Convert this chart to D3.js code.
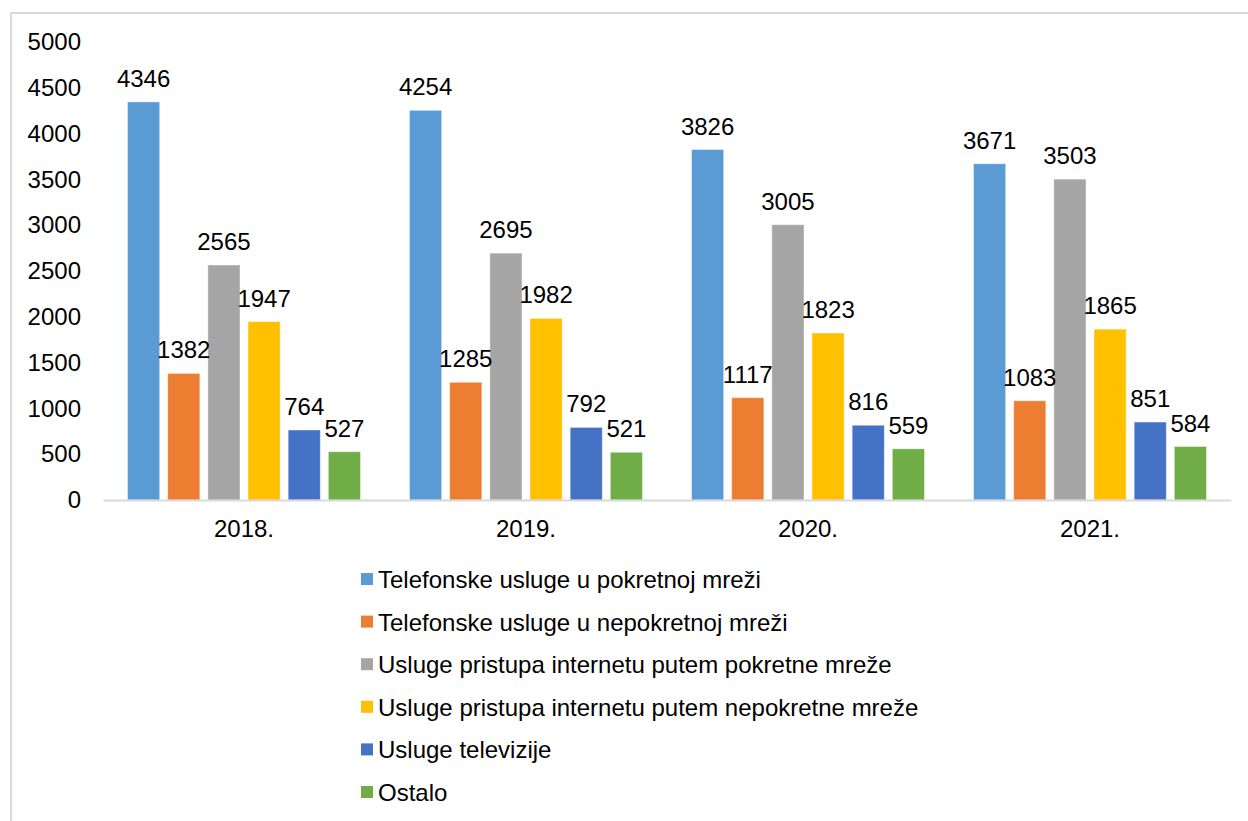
<!DOCTYPE html>
<html>
<head>
<meta charset="utf-8">
<script src="https://cdn.jsdelivr.net/npm/d3@7"></script>
<style>
  body { margin: 0; background: #fff; }
  svg { display: block; font-family: "Liberation Sans", Arial, sans-serif; }
</style>
</head>
<body>
<svg id="chart" width="1248" height="821"></svg>
<script>
// data
const years = ["2018.", "2019.", "2020.", "2021."];
const seriesNames = [
  "Telefonske usluge u pokretnoj mreži",
  "Telefonske usluge u nepokretnoj mreži",
  "Usluge pristupa internetu putem pokretne mreže",
  "Usluge pristupa internetu putem nepokretne mreže",
  "Usluge televizije",
  "Ostalo"
];
const mobilePhone   = [4346, 4254, 3826, 3671];
const fixedPhone    = [1382, 1285, 1117, 1083];
const mobileNet     = [2565, 2695, 3005, 3503];
const fixedNet      = [1947, 1982, 1823, 1865];
const television    = [764, 792, 816, 851];
const other         = [527, 521, 559, 584];
const yTicks = [0, 500, 1000, 1500, 2000, 2500, 3000, 3500, 4000, 4500, 5000];

const colors = ["#5B9BD5", "#ED7D31", "#A5A5A5", "#FFC000", "#4472C4", "#70AD47"];
const series = [mobilePhone, fixedPhone, mobileNet, fixedNet, television, other];
const fontSize = 24;

const svg = d3.select("#chart");

// outer frame (only top and left visible in the crop)
svg.append("path")
   .attr("d", "M11,830V13H1260")
   .attr("fill", "none")
   .attr("stroke", "#d9d9d9")
   .attr("stroke-width", 2);

const x0 = d3.scaleBand()
             .domain(years)
             .range([103, 1231])
             .paddingInner(0.174)
             .paddingOuter(0.087);

const x1 = d3.scaleBand()
             .domain(d3.range(series.length))
             .range([0, x0.bandwidth()])
             .paddingInner(0.2);

const y = d3.scaleLinear()
            .domain([0, 5000])
            .range([500, 42]);

// y axis labels
const yAxis = svg.append("g")
   .attr("transform", "translate(103,0)")
   .call(d3.axisLeft(y).tickValues(yTicks).tickFormat(d3.format("d")).tickSize(0).tickPadding(22));
yAxis.select(".domain").remove();
yAxis.selectAll("text")
     .attr("font-size", fontSize)
     .attr("font-family", "Liberation Sans, Arial, sans-serif")
     .attr("fill", "#000");

// bars
const groups = svg.selectAll("g.year")
   .data(years)
   .enter()
   .append("g")
   .attr("class", "year")
   .attr("transform", d => `translate(${x0(d)},0)`);

groups.selectAll("rect")
   .data((d, i) => series.map((s, k) => ({k: k, v: s[i]})))
   .enter()
   .append("rect")
   .attr("x", d => x1(d.k))
   .attr("y", d => y(d.v))
   .attr("width", x1.bandwidth())
   .attr("height", d => y(0) - y(d.v))
   .attr("fill", d => colors[d.k])
   .attr("stroke", "#fff")
   .attr("stroke-opacity", 0.4)
   .attr("stroke-width", 1);

groups.selectAll("text.val")
   .data((d, i) => series.map((s, k) => ({k: k, v: s[i]})))
   .enter()
   .append("text")
   .attr("class", "val")
   .attr("x", d => x1(d.k) + x1.bandwidth() / 2)
   .attr("y", d => y(d.v) - 15)
   .attr("text-anchor", "middle")
   .attr("font-size", fontSize)
   .attr("fill", "#000")
   .text(d => d.v);

// x axis
const xAxis = svg.append("g")
   .attr("transform", "translate(0,500)")
   .call(d3.axisBottom(x0).tickSize(0).tickSizeOuter(0).tickPadding(20));
xAxis.select(".domain")
     .attr("stroke", "#d9d9d9")
     .attr("stroke-width", 2);
xAxis.selectAll("text")
     .attr("font-size", fontSize)
     .attr("font-family", "Liberation Sans, Arial, sans-serif")
     .attr("fill", "#000");

// legend
const legend = svg.selectAll("g.legend")
   .data(seriesNames)
   .enter()
   .append("g")
   .attr("class", "legend")
   .attr("transform", (d, i) => `translate(361,${588 + i * 42.6})`);

legend.append("rect")
      .attr("x", 0)
      .attr("y", -15)
      .attr("width", 12)
      .attr("height", 12)
      .attr("fill", (d, i) => colors[i]);

legend.append("text")
      .attr("x", 17)
      .attr("y", 0)
      .attr("font-size", fontSize)
      .attr("fill", "#000")
      .text(d => d);
</script>
</body>
</html>
